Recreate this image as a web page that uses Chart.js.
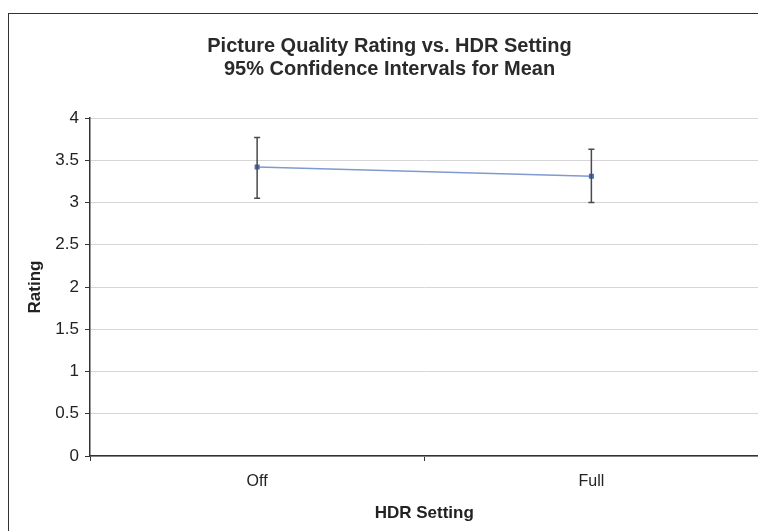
<!DOCTYPE html>
<html>
<head>
<meta charset="utf-8">
<script src="https://cdn.jsdelivr.net/npm/chart.js@4.4.1/dist/chart.umd.min.js"></script>
<style>
  html, body { margin: 0; padding: 0; background: #fff; overflow: hidden; }
  #wrap { position: relative; width: 758px; height: 531px; overflow: hidden; }
  #frame { position: absolute; left: 8px; top: 13px; right: -2px; bottom: -2px; border-left: 1px solid #333; border-top: 1.5px solid #333; }
  canvas { position: absolute; left: 0; top: 0; }
</style>
</head>
<body>
<div id="wrap">
  <div id="frame"></div>
  <canvas id="chart" width="764" height="531"></canvas>
</div>
<script>
const categories = ["Off", "Full"];
const meanRating = [3.42, 3.31];
const lowerCI = [3.05, 3.0];
const upperCI = [3.77, 3.63];
const yTicks = [0, 0.5, 1, 1.5, 2, 2.5, 3, 3.5, 4];

// draws the confidence interval whiskers from the lower/upper arrays
const errorBars = {
  id: "errorBars",
  afterDatasetsDraw(chart) {
    const ctx = chart.ctx;
    const xs = chart.scales.x;
    const ys = chart.scales.y;
    ctx.save();
    ctx.strokeStyle = "#4a4a4a";
    ctx.lineWidth = 1.5;
    categories.forEach((c, i) => {
      const x = xs.getPixelForValue(i);
      const yLo = ys.getPixelForValue(lowerCI[i]);
      const yHi = ys.getPixelForValue(upperCI[i]);
      ctx.beginPath();
      ctx.moveTo(x, yLo);
      ctx.lineTo(x, yHi);
      ctx.moveTo(x - 3, yLo);
      ctx.lineTo(x + 3, yLo);
      ctx.moveTo(x - 3, yHi);
      ctx.lineTo(x + 3, yHi);
      ctx.stroke();
    });
    ctx.restore();
  }
};

const font = "Liberation Sans, Arial, sans-serif";
const ctx = document.getElementById("chart").getContext("2d");
new Chart(ctx, {
  type: "line",
  data: {
    labels: categories,
    datasets: [
      {
        label: "Mean",
        data: meanRating,
        borderColor: "#7f9ad0",
        borderWidth: 1.5,
        pointStyle: "rect",
        pointRadius: 2.5,
        pointBackgroundColor: "#4a6fb5",
        pointBorderColor: "#4a6fb5",
        tension: 0,
      },
    ],
  },
  options: {
    responsive: false,
    animation: false,
    layout: { padding: { left: 15, right: 0, top: 0, bottom: 0 } },
    plugins: {
      legend: { display: false },
      tooltip: { enabled: false },
      title: {
        display: true,
        text: ["Picture Quality Rating vs. HDR Setting", "95% Confidence Intervals for Mean"],
        color: "#2a2a2a",
        font: { family: font, size: 20, weight: "bold", lineHeight: 1.15 },
        padding: { top: 35, bottom: 37 },
      },
    },
    scales: {
      x: {
        offset: true,
        grid: { display: true, drawOnChartArea: false, offset: true, tickLength: 5, color: "#333" },
        border: { color: "#333", width: 1.5 },
        ticks: {
          color: "#222",
          padding: 11,
          font: { family: font, size: 16 },
        },
        title: {
          display: true,
          text: "HDR Setting",
          color: "#222",
          font: { family: font, size: 17, weight: "bold" },
          padding: { top: 4, bottom: 7 },
        },
        afterFit(scale) { scale.height = 75; },
      },
      y: {
        min: 0,
        max: 4,
        afterBuildTicks(scale) { scale.ticks = yTicks.map(v => ({ value: v })); },
        grid: { color: "#d6d6d6", tickColor: "#333", tickLength: 5 },
        border: { color: "#333", width: 1.5 },
        ticks: {
          color: "#222",
          padding: 6,
          font: { family: font, size: 17 },
          callback: (v) => String(v),
        },
        title: {
          display: true,
          text: "Rating",
          color: "#222",
          font: { family: font, size: 17, weight: "bold" },
          padding: { top: 10, bottom: 0 },
        },
        afterFit(scale) { scale.width = 75; },
      },
    },
  },
  plugins: [errorBars],
});
</script>
</body>
</html>
